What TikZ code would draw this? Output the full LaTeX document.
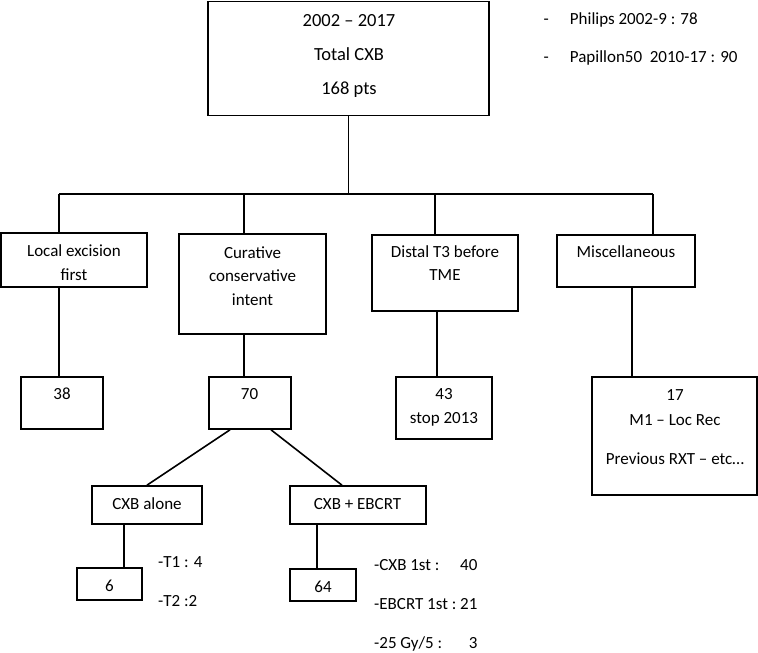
\documentclass[tikz,border=0pt]{standalone}
\usepackage{fontspec}
\setmainfont{Carlito}
\usepackage{tikz}
\usetikzlibrary{positioning, calc}

\begin{document}
\begin{tikzpicture}[x=1pt, y=-1pt,
    box/.style={draw, line width=1.6pt, inner sep=0pt},
    txt/.style={font=\fontsize{17}{23.5}\selectfont, align=center, anchor=base, inner sep=0pt},
    link/.style={line width=1.6pt}]
    \useasboundingbox (0,0) rectangle (758,653);

    % Top box and study list
    \node[box, minimum width=281, minimum height=114] (total) at (348.5,58.5) {};
    \node[txt, font=\fontsize{18.5}{23.5}\selectfont] (total-txt) at (349,94) {2002 – 2017\\[10.5pt]Total CXB\\[10.5pt]168 pts};
    \node[txt, anchor=base west] (studies) at (543.5,24) {\begin{tabular}[t]{@{}l@{\hspace{21pt}}l@{}}- & Philips 2002-9 : 78\\[15.2pt] - & Papillon50\ \ 2010-17 : 90\end{tabular}};

    % Second row
    \node[box, minimum width=146, minimum height=54] (local) at (74,260) {};
    \node[txt] (local-txt) at (74,280) {Local excision\\first};
    \node[box, minimum width=147, minimum height=100] (curative) at (252.5,284) {};
    \node[txt] (curative-txt) at (252.5,305) {Curative\\conservative\\intent};
    \node[box, minimum width=146, minimum height=76] (distal) at (445,273) {};
    \node[txt] (distal-txt) at (445,280.5) {Distal T3 before\\TME};
    \node[box, minimum width=138, minimum height=52] (misc) at (626,261) {};
    \node[txt] (misc-txt) at (626,257) {Miscellaneous};

    % Counts
    \node[box, minimum width=82, minimum height=52] (n38) at (62,403) {};
    \node[txt] (n38-txt) at (62,399.3) {38};
    \node[box, minimum width=82, minimum height=52] (n70) at (250,403) {};
    \node[txt] (n70-txt) at (249.5,399.3) {70};
    \node[box, minimum width=96, minimum height=62] (n43) at (444,408) {};
    \node[txt] (n43-txt) at (444,423) {43\\stop 2013};
    \node[box, minimum width=165, minimum height=118] (n17) at (674.5,436) {};
    \node[txt] (n17-txt) at (675,464) {17\\[1.5pt]M1 – Loc Rec\\[15.5pt]Previous RXT – etc…};

    % Curative split
    \node[box, minimum width=110, minimum height=38] (alone) at (147,505) {};
    \node[txt] (alone-txt) at (147,509) {CXB alone};
    \node[box, minimum width=136, minimum height=38] (ebcrt) at (358,505) {};
    \node[txt] (ebcrt-txt) at (357.5,509) {CXB + EBCRT};
    \node[box, minimum width=65, minimum height=32] (n6) at (109.5,584) {};
    \node[txt] (n6-txt) at (109.5,591.7) {6};
    \node[box, minimum width=66, minimum height=32] (n64) at (323,585) {};
    \node[txt] (n64-txt) at (323,592.3) {64};
    \node[txt, anchor=base west, align=left] (t-notes) at (158,606.7) {-T1 : 4\\[16.2pt]-T2 :2};
    \node[txt, anchor=base west] (ebcrt-notes) at (374,570) {\begin{tabular}[t]{@{}l@{\ }r@{}}-CXB 1st : & 40\\[15.5pt] -EBCRT 1st : & 21\\[15.5pt] -25 Gy/5 : & 3\end{tabular}};

    % Connectors
    \coordinate (bus-l) at (59,194);
    \coordinate (bus-c) at (244,194);
    \coordinate (bus-d) at (435,194);
    \coordinate (bus-r) at (653,194);
    \draw[link] (total.south) -- (total.south |- bus-l);
    \draw[link] (bus-l) -- (bus-r);
    \foreach \b/\n in {bus-l/local, bus-c/curative, bus-d/distal, bus-r/misc}
        \draw[link] (\b) -- (\b |- \n.north);
    \draw[link] (bus-l |- local.south) -- (bus-l |- n38.north);
    \draw[link] (bus-c |- curative.south) -- (bus-c |- n70.north);
    \draw[link] ([xshift=-8]distal.south) -- ([xshift=-8]distal.south |- n43.north);
    \draw[link] ([xshift=6]misc.south) -- ([xshift=6]misc.south |- n17.north);
    \draw[link] ([xshift=-20]n70.south) -- (alone.north);
    \draw[link] ([xshift=21]n70.south) -- ([xshift=-16]ebcrt.north);
    \draw[link] ([xshift=-23]alone.south) -- ([xshift=-23]alone.south |- n6.north);
    \draw[link] ([xshift=-41]ebcrt.south) -- ([xshift=-41]ebcrt.south |- n64.north);
\end{tikzpicture}
\end{document}
